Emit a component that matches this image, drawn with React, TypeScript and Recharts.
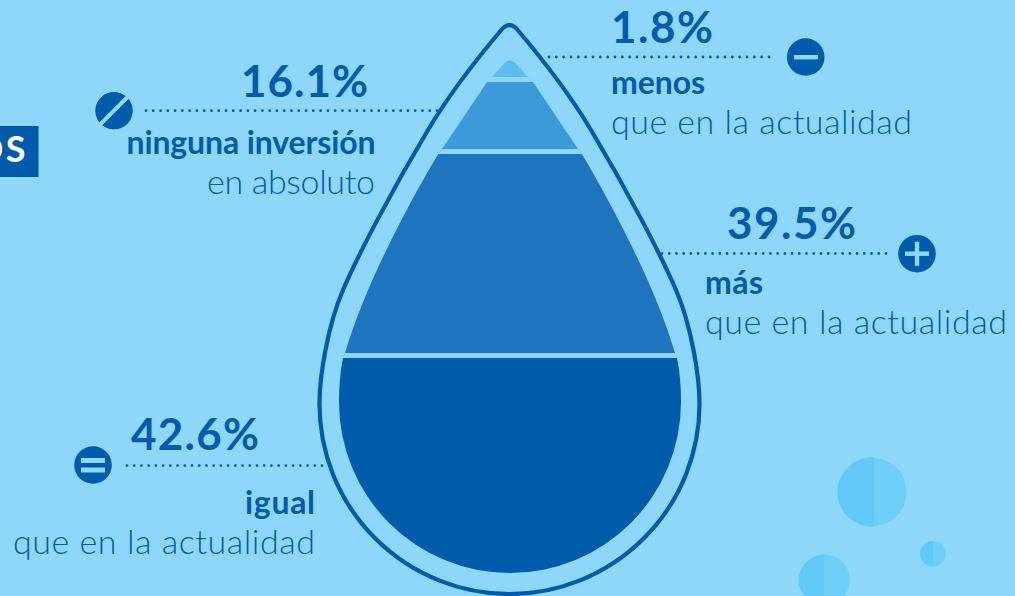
import React from 'react';
import { BarChart, Bar, XAxis, YAxis } from 'recharts';

const categories = ['igual', 'más', 'ninguna inversión', 'menos'];
const subLabels = ['que en la actualidad', 'que en la actualidad', 'en absoluto', 'que en la actualidad'];
const shares = [42.6, 39.5, 16.1, 1.8];
const bandColors = ['#005bab', '#1f74bf', '#3d9ad9', '#5cbdec'];

const BG = '#8dd7fa';
const NAVY = '#005bab';
const FONT = 'Lato, "Open Sans", sans-serif';

const chartData = [
  { name: 'inversion', s0: shares[0], s1: shares[1], s2: shares[2], s3: shares[3] },
];

// The drop is not drawn to a linear scale: the tiny top band is inflated so it stays visible.
// So the y axis gets a piecewise scale, with breakpoints at the cumulative shares.
const cumulative = [0, 42.6, 82.1, 98.2, 100];
const fractions = [0, 220 / 518, 424 / 518, 496 / 518, 1];

function dropScale() {
  let dom = [0, 100];
  let rng = [1, 0];
  const scale: any = (v: number) => {
    let i = 0;
    while (i < cumulative.length - 2 && v > cumulative[i + 1]) i++;
    const t = (v - cumulative[i]) / (cumulative[i + 1] - cumulative[i]);
    const f = fractions[i] + t * (fractions[i + 1] - fractions[i]);
    return rng[0] + (rng[1] - rng[0]) * f;
  };
  scale.domain = (d?: number[]) => {
    if (!d) return dom;
    dom = d;
    return scale;
  };
  scale.range = (r?: number[]) => {
    if (!r) return rng;
    rng = r;
    return scale;
  };
  scale.copy = () => dropScale().domain(dom).range(rng);
  scale.ticks = () => cumulative;
  scale.tickFormat = () => String;
  return scale;
}

const INNER_DROP =
  'M510 60 C505 61 500 68 492 77 L487 82 L442 149 L437 156 C408 205 365 285 345 353 L343 358 C340 372 339 388 339 402 A171 171 0 0 0 681 402 C681 388 680 372 677 358 L675 353 C655 285 612 205 583 156 L578 149 L533 82 L528 77 C520 68 515 61 510 60 Z';
const OUTER_DROP =
  'M503 28 Q509.5 22 516 28 C539 55 569 93 591 130 C627 190 661 255 676 290 C691 325 699.5 375 699.5 404 A190 190 0 0 1 319.5 404 C319.5 375 328 325 343 290 C358 255 392 190 428 130 C450 93 480 55 503 28 Z';

const BandShape = (props: any) => (
  <rect
    x={props.x}
    y={props.y}
    width={props.width}
    height={props.height}
    fill={props.fill}
    stroke={BG}
    strokeWidth={5}
    clipPath="url(#dropClip)"
  />
);

const Leader = ({ x1, x2, y }: { x1: number; x2: number; y: number }) => {
  const gap = (x2 - x1) / Math.round((x2 - x1) / 7.33);
  return (
    <line x1={x1} x2={x2 + 0.05} y1={y} y2={y} stroke={NAVY} strokeWidth={2.8} strokeLinecap="round" strokeDasharray={`0 ${gap}`} />
  );
};

const Txt = ({ x, y, w, size, weight, anchor, children }: any) => (
  <text
    x={x}
    y={y}
    textLength={w}
    lengthAdjust="spacing"
    textAnchor={anchor || 'start'}
    fontFamily={FONT}
    fontSize={size}
    fontWeight={weight}
    fill={NAVY}
  >
    {children}
  </text>
);

const Bubble = ({ cx, cy, r, split }: { cx: number; cy: number; r: number; split: number }) => (
  <g>
    <circle cx={cx} cy={cy} r={r} fill="#6dcff8" />
    <path
      d={`M${split} ${cy - Math.sqrt(r * r - (split - cx) ** 2)} A${r} ${r} 0 ${split > cx ? 1 : 0} 0 ${split} ${cy + Math.sqrt(r * r - (split - cx) ** 2)} Z`}
      fill="#62c9f6"
    />
  </g>
);

export default function App() {
  return (
    <div style={{ position: 'absolute', left: 0, top: 0, width: 1015, height: 596, background: BG, overflow: 'hidden' }}>
      <BarChart
        width={1015}
        height={596}
        data={chartData}
        margin={{ top: 57.5, right: 0, bottom: 20.5, left: 0 }}
        barCategoryGap={0}
      >
        <defs>
          <clipPath id="dropClip">
            <path d={INNER_DROP} />
          </clipPath>
        </defs>
        <XAxis dataKey="name" hide />
        <YAxis type="number" domain={[0, 100]} scale={dropScale() as any} hide />
        {shares.map((_, i) => (
          <Bar key={i} dataKey={`s${i}`} stackId="drop" fill={bandColors[i]} shape={BandShape} isAnimationActive={false} />
        ))}

        <path d={OUTER_DROP} fill="none" stroke={NAVY} strokeWidth={4.2} />

        {/* bubbles */}
        <Bubble cx={872} cy={492} r={34.5} split={874} />
        <Bubble cx={933} cy={553.7} r={12.7} split={933} />
        <Bubble cx={824.5} cy={580} r={25.5} split={824} />

        {/* cut-off title box on the left */}
        <rect x={0} y={126} width={38.5} height={51} fill={NAVY} />
        <text x={28} y={162} textAnchor="end" fontFamily={FONT} fontSize={36} fontWeight={700} letterSpacing={2.5} fill="#fff">
          OS
        </text>

        {/* menos */}
        <Leader x1={549} x2={769} y={57} />
        <circle cx={805.7} cy={57} r={18.8} fill={NAVY} />
        <rect x={794} y={55} width={24} height={4.4} fill={BG} />
        <Txt x={611} y={42.5} w={102} size={44} weight={700}>{`${shares[3]}%`}</Txt>
        <Txt x={611} y={93.5} w={94} size={32} weight={700}>{categories[3]}</Txt>
        <Txt x={611} y={133.7} w={301} size={34} weight={300}>{subLabels[3]}</Txt>

        {/* ninguna */}
        <Leader x1={146} x2={437} y={110.7} />
        <circle cx={114} cy={110.7} r={18.8} fill={NAVY} />
        <line x1={94} y1={130.7} x2={134} y2={90.7} stroke={BG} strokeWidth={4} />
        <circle cx={114} cy={110.7} r={21.5} fill="none" stroke={BG} strokeWidth={5} />
        <Txt x={368} y={97} w={127} size={44} weight={700} anchor="end">{`${shares[2]}%`}</Txt>
        <Txt x={375.5} y={154} w={249} size={32} weight={700} anchor="end">{categories[2]}</Txt>
        <Txt x={375} y={194} w={168} size={34} weight={300} anchor="end">{subLabels[2]}</Txt>

        {/* más */}
        <Leader x1={662} x2={886} y={253.5} />
        <circle cx={917} cy={253.7} r={18.8} fill={NAVY} />
        <rect x={905} y={251.5} width={24} height={4.4} fill={BG} />
        <rect x={914.8} y={241.7} width={4.4} height={24} fill={BG} />
        <Txt x={727} y={239} w={129} size={44} weight={700}>{`${shares[1]}%`}</Txt>
        <Txt x={705} y={293.7} w={58} size={32} weight={700}>{categories[1]}</Txt>
        <Txt x={705} y={334} w={302} size={34} weight={300}>{subLabels[1]}</Txt>

        {/* igual */}
        <Leader x1={127} x2={322} y={465.6} />
        <circle cx={93} cy={465} r={18.8} fill={NAVY} />
        <rect x={81} y={458} width={24} height={5} fill={BG} />
        <rect x={81} y={467.5} width={24} height={5} fill={BG} />
        <Txt x={131} y={450} w={128} size={44} weight={700}>{`${shares[0]}%`}</Txt>
        <Txt x={315} y={514} w={70} size={32} weight={700} anchor="end">{categories[0]}</Txt>
        <Txt x={315} y={553.7} w={302} size={34} weight={300} anchor="end">{subLabels[0]}</Txt>
      </BarChart>
    </div>
  );
}
